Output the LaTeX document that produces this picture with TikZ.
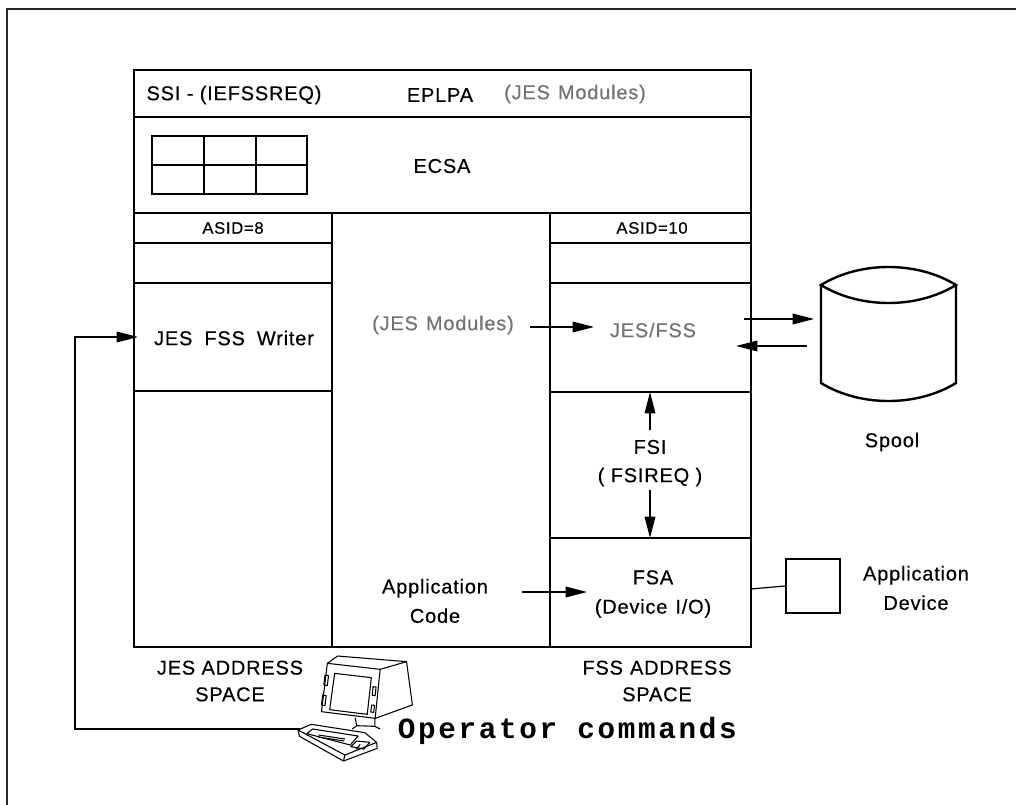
\documentclass[tikz,border=0pt]{standalone}
\usepackage{fontspec}
\setmainfont{Liberation Sans}[LetterSpace=4, FakeBold=0.4]
\newfontfamily\opfont{Liberation Mono}[LetterSpace=9]
\usetikzlibrary{arrows.meta}

\tikzset{
  wall/.style={line width=1.8pt},
  frame/.style={line width=1.5pt, black!85},
  arr/.style={line width=0.9pt, -{Triangle[length=16pt,width=8pt]}},
  link/.style={line width=0.9pt},
  lbl/.style={font=\fontsize{15}{18}\selectfont, inner sep=0pt, align=center},
  small/.style={font=\fontsize{12.5}{15}\selectfont, inner sep=0pt},
  ghost/.style={lbl, text=black!55},
  term/.style={line width=0.8pt, line join=round},
}

\begin{document}
\begin{tikzpicture}[x=0.75pt, y=-0.75pt]
\useasboundingbox (0,0) rectangle (1016,805);

% page frame (top and left edges)
\draw[frame] (1016,9) -- (7,9) -- (7,805);

% storage map outline and horizontal bands
\draw[wall] (134,70) rectangle (751,647);
\draw[wall] (134,117) -- (751,117);
\draw[wall] (134,213) -- (751,213);
\draw[wall] (332,213) -- (332,647);
\draw[wall] (550,213) -- (550,647);
% JES address space column
\draw[wall] (134,243) -- (332,243);
\draw[wall] (134,283) -- (332,283);
\draw[wall] (134,391) -- (332,391);
% FSS address space column
\draw[wall] (550,243) -- (751,243);
\draw[wall] (550,283) -- (751,283);
\draw[wall] (550,392) -- (751,392);
\draw[wall] (550,538) -- (751,538);

% control block table in ECSA
\draw[wall] (152,136) rectangle (307,194);
\draw[wall] (204,136) -- (204,194);
\draw[wall] (256,136) -- (256,194);
\draw[wall] (152,165) -- (307,165);

% band labels
\node[lbl] (ssi) at (234,95) {SSI - (IEFSSREQ)};
\node[lbl] (eplpa) at (440,95) {EPLPA};
\node[ghost] (jesmodA) at (575,94) {(JES\hspace{0.4em}Modules)};
\node[lbl] (ecsa) at (442,166) {ECSA};
\node[small] (asid8) at (233,228) {ASID=8};
\node[small] (asid10) at (652,228) {ASID=10};

% address space contents
\node[lbl] (writer) at (234,338) {JES\hspace{0.6em}FSS\hspace{0.6em}Writer};
\node[ghost] (jesmodB) at (443,325) {(JES\hspace{0.4em}Modules)};
\node[ghost] (jesfss) at (653,330) {JES/FSS};
\node[lbl] (fsi) at (650,447) {FSI};
\node[lbl] (fsireq) at (650,477) {( FSIREQ )};
\node[lbl] (appcode) at (435,601) {Application\\[4pt]Code};
\node[lbl] (fsa) at (653,594) {FSA\\[4pt](Device\hspace{0.4em}I/O)};

% address space captions
\node[lbl] (jesas) at (230,681) {JES ADDRESS\\[2pt]SPACE};
\node[lbl] (fssas) at (657,681) {FSS\hspace{0.35em}ADDRESS\\[2pt]SPACE};

% spool data set
\draw[wall] (821,285) .. controls (860,261) and (917,261) .. (956,285)
            .. controls (917,309) and (860,309) .. (821,285) -- cycle;
\draw[wall] (821,285) -- (821,383) .. controls (860,407) and (917,407) .. (956,383) -- (956,285);
\node[lbl] (spool) at (892,442) {Spool};

% application device
\node[draw, line width=1.8pt, inner sep=0pt,
      minimum width=40.5pt, minimum height=40.5pt] (dev) at (813,586) {};
\node[lbl] (devtxt) at (916,588) {Application\\[4pt]Device};

% arrow end points
\coordinate (mA) at (530,327);
\coordinate (mB) at (594,327);
\coordinate (sA) at (744,319);
\coordinate (sB) at (814,319);
\coordinate (sC) at (807,346);
\coordinate (sD) at (736,346);
\coordinate (uA) at (650,430);
\coordinate (uB) at (650,392);
\coordinate (dA) at (650,490);
\coordinate (dB) at (650,538);
\coordinate (aA) at (522,592);
\coordinate (aB) at (587,592);
\coordinate (fsaR) at (751,589);
\coordinate (opL) at (300,729);
\coordinate (opC) at (75,729);
\coordinate (opU) at (75,337);
\coordinate (wIn) at (138,337);

\draw[arr] (mA) -- (mB);
\draw[arr] (sA) -- (sB);
\draw[arr] (sC) -- (sD);
\draw[arr] (uA) -- (uB);
\draw[arr] (dA) -- (dB);
\draw[arr] (aA) -- (aB);
\draw[link] (fsaR) -- (dev.west);
\draw[arr] (opL) -- (opC) -- (opU) -- (wIn);

% operator terminal
\begin{scope}[shift={(298,655)}, x=0.22pt, y=-0.25pt, term]
  % monitor housing
  \draw (100,25) -- (135,3) -- (370,20) -- (390,150) -- (263,190) -- (80,170) -- cycle;
  \draw (100,25) -- (280,43) -- (263,190);
  \draw (280,43) -- (370,20);
  % screen
  \draw (125,55) -- (250,68) -- (236,178) -- (108,164) -- cycle;
  % bezel knobs
  \draw (92,60) -- (104,62) -- (100,92) -- (88,90) -- cycle;
  \draw (84,120) -- (96,122) -- (92,152) -- (80,150) -- cycle;
  \draw (256,95) -- (266,96) -- (263,122) -- (253,121) -- cycle;
  \draw (251,150) -- (261,151) -- (258,172) -- (248,171) -- cycle;
  % stand
  \draw (195,188) -- (200,212) -- (262,214) -- (262,191);
  \draw (200,212) -- (185,222);
  \draw (262,214) -- (280,222);
  % keyboard
  \draw (0,225) -- (45,208) -- (228,233) -- (268,262) -- (270,280) -- (155,318) -- (5,244) -- cycle;
  \draw (0,225) -- (160,300) -- (268,262);
  \draw (160,300) -- (155,318);
  \draw (50,222) -- (205,243) -- (178,270) -- (30,236) -- cycle;
  \draw (70,240) -- (160,252);
  \draw (68,246) -- (158,258);
  \draw (180,275) -- (200,258) -- (245,262) -- (225,282) -- cycle;
  \draw (212,268) -- (198,283);
\end{scope}

% operator commands caption
\node[font=\opfont\bfseries\fontsize{22}{24}\selectfont, inner sep=0pt, anchor=east]
  (opcmd) at (737,731) {Operator commands};
\end{tikzpicture}
\end{document}
